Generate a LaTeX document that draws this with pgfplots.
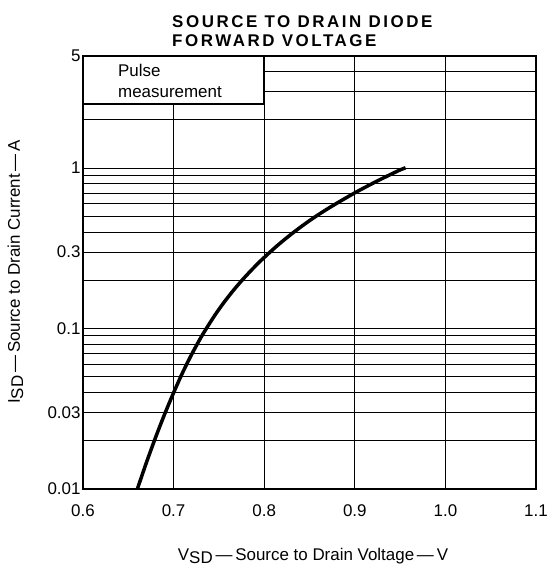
\documentclass[border=0pt]{standalone}
\usepackage{pgfplots}
\pgfplotsset{compat=1.18}
\usepackage{fontspec}
\setmainfont{Liberation Sans}
\newfontfamily\titlefont[LetterSpace=15]{Liberation Sans}

\begin{document}
\begin{tikzpicture}[x=1bp,y=1bp]
\begin{axis}[
    at={(0,0)}, anchor=south west,
    scale only axis,
    width=453bp, height=433bp,
    xmin=0.6, xmax=1.1,
    ymin=0.01, ymax=5,
    ymode=log,
    xtick={0.6,0.7,0.8,0.9,1.0,1.1},
    xticklabels={0.6,0.7,0.8,0.9,1.0,1.1},
    ytick={0.01,0.03,0.1,0.3,1,5},
    yticklabels={0.01,0.03,0.1,0.3,1,5},
    minor ytick={0.02,0.04,0.05,0.06,0.07,0.08,0.09,0.2,0.4,0.5,0.6,0.7,0.8,0.9,2,3,4},
    grid=both,
    major grid style={black, line width=0.9bp},
    minor grid style={black, line width=0.9bp},
    major tick length=0pt, minor tick length=0pt,
    axis line style={line width=1.6bp},
    tick label style={font=\fontsize{17}{17}\selectfont},
    xticklabel style={yshift=-12bp},
    yticklabel style={xshift=1bp},
    /pgf/number format/assume math mode=true,
    clip=false,
]
% source to drain diode forward characteristic
\addplot[black, line width=3.5bp, smooth] table {
0.660 0.01000
0.670 0.01462
0.680 0.02089
0.690 0.02917
0.700 0.03981
0.710 0.05321
0.720 0.06918
0.730 0.08770
0.736 0.09977
0.746 0.1222
0.756 0.1466
0.766 0.1730
0.776 0.2014
0.786 0.2317
0.796 0.2642
0.800 0.2773
0.810 0.3126
0.820 0.3495
0.830 0.3882
0.840 0.4285
0.850 0.4705
0.859 0.5093
0.869 0.5534
0.879 0.5990
0.889 0.6462
0.900 0.7015
0.910 0.7523
0.920 0.8054
0.930 0.8600
0.940 0.9162
0.950 0.9750
0.956 1.005
};
\draw[fill=white, line width=1.6bp] (axis cs:0.6,5) rectangle (axis cs:0.8,2.5);
\end{axis}
\node[anchor=base west, inner sep=0pt, font=\fontsize{17}{17}\selectfont] at (35,412) {Pulse};
\node[anchor=base west, inner sep=0pt, font=\fontsize{17}{17}\selectfont] at (35,391) {measurement};
\node[anchor=base west, inner sep=0pt, font=\titlefont\bfseries\fontsize{17}{17}\selectfont] at (89,461) {SOURCE TO DRAIN DIODE};
\node[anchor=base west, inner sep=0pt, font=\titlefont\bfseries\fontsize{17}{17}\selectfont] at (89,442) {FORWARD VOLTAGE};
\node[anchor=base, inner sep=0pt, font=\fontsize{17}{17}\selectfont] at (230,-71) {V\raisebox{-0.35ex}{SD}\,—\,Source to Drain Voltage\,—\,V};
\node[anchor=base, inner sep=0pt, rotate=90, font=\fontsize{17}{17}\selectfont] at (-63,217) {I\raisebox{-0.35ex}{SD}\,—\,Source to Drain Current\,—\,A};
\useasboundingbox (-83,-77) rectangle (464,489);
\end{tikzpicture}
\end{document}
